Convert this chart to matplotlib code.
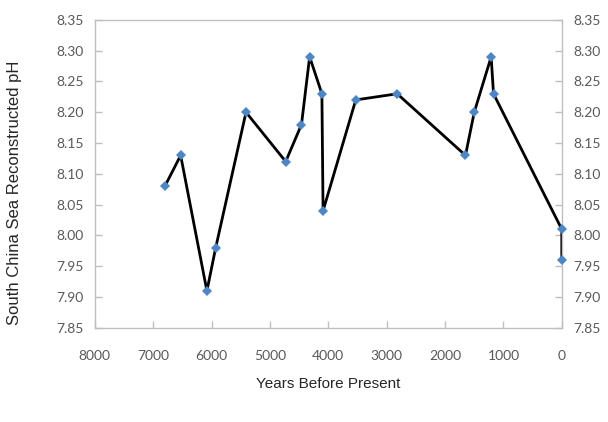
import matplotlib
matplotlib.use("Agg")
from matplotlib import pyplot as plt

# !Data
years_bp = [6800, 6530, 6080, 5930, 5410, 4730, 4460, 4320, 4110, 4090,
            3530, 2820, 1650, 1500, 1210, 1170, 0, 0]
ph_values = [8.08, 8.13, 7.91, 7.98, 8.20, 8.12, 8.18, 8.29, 8.23, 8.04,
             8.22, 8.23, 8.13, 8.20, 8.29, 8.23, 8.01, 7.96]
x_ticks = [8000, 7000, 6000, 5000, 4000, 3000, 2000, 1000, 0]
y_ticks = [7.85, 7.90, 7.95, 8.00, 8.05, 8.10, 8.15, 8.20, 8.25, 8.30, 8.35]

gray = "#bfbfbf"
label_color = "#595959"

fig = plt.figure(figsize=(6.08, 4.22), dpi=100)
ax = fig.add_axes([0.156, 0.223, 0.768, 0.730])

ax.plot(years_bp, ph_values, color="black", linewidth=2.0, zorder=2)
ax.plot(years_bp, ph_values, linestyle="none", marker="D", markersize=5.5,
        color="#4a86c8", markeredgewidth=0, zorder=3, clip_on=False)

ax.set_xlim(8000, 0)
ax.set_ylim(7.85, 8.35)
ax.set_xticks(x_ticks)
ax.set_yticks(y_ticks)
ax.set_yticklabels(["%.2f" % v for v in y_ticks])

for side in ax.spines.values():
    side.set_color(gray)
    side.set_linewidth(1.0)

ax.tick_params(axis="both", direction="in", length=5, color=gray, width=1,
               labelsize=10, labelcolor=label_color, pad=8)
ax.tick_params(axis="y", right=True, labelright=True)
ax.tick_params(axis="x", pad=16)
for lbl in ax.get_xticklabels() + ax.get_yticklabels():
    lbl.set_family("Lato")

ax.set_xlabel("Years Before Present", fontsize=11, family="Liberation Sans",
              color="#262626", labelpad=11)
ax.set_ylabel("South China Sea Reconstructed pH", fontsize=12,
              family="Liberation Sans", color="#262626")
ax.yaxis.set_label_coords(-0.156, 0.44)

fig.savefig("out.png", dpi=100)
